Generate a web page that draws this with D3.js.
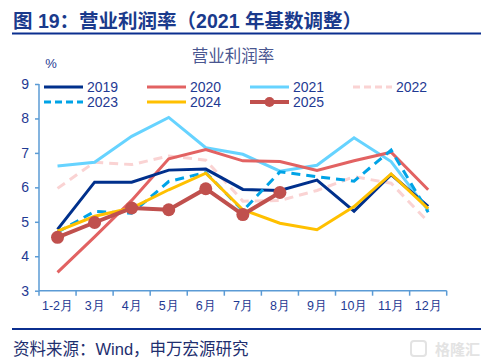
<!DOCTYPE html>
<html><head><meta charset="utf-8">
<script src="https://cdn.jsdelivr.net/npm/d3@7"></script>
<style>body{margin:0;background:#fff;}svg{display:block;font-family:"Liberation Sans",Arial,"Noto Sans CJK SC",sans-serif;}</style>
</head><body>
<script>
const months = ["1-2月","3月","4月","5月","6月","7月","8月","9月","10月","11月","12月"];
const yTicks = [3,4,5,6,7,8,9];
const s2019 = [4.78,6.15,6.15,6.50,6.53,5.94,5.91,6.21,5.31,6.37,5.45];
const s2020 = [3.53,4.56,5.62,6.83,7.10,6.77,6.75,6.49,6.77,7.02,5.93];
const s2021 = [6.62,6.73,7.48,8.03,7.15,6.96,6.47,6.64,7.44,6.75,5.33];
const s2022 = [5.97,6.73,6.66,6.91,6.79,5.60,5.62,5.91,6.31,6.12,5.00];
const s2023 = [4.70,5.30,5.25,6.17,6.43,5.32,6.45,6.31,6.18,7.08,5.28];
const s2024 = [4.73,5.16,5.40,5.93,6.41,5.35,4.96,4.77,5.44,6.39,5.38];
const s2025 = [4.55,4.98,5.40,5.35,5.96,5.21,5.85];
const seriesNames = ["2019","2020","2021","2022","2023","2024","2025"];
const seriesColors = ["#00308C","#E26262","#66D3FF","#FAD3D3","#00A3E6","#FFC000","#C0504D"];

const series = [s2019,s2020,s2021,s2022,s2023,s2024,s2025];
const dashes = [null,null,null,"9,6","9,6",null,null];
const widths = [3,3,3,3,3,3,4];

const W=486,H=364;
const svg=d3.select("body").append("svg").attr("width",W).attr("height",H);
const navy="#1F3A93";

// Title
svg.append("text").attr("x",13).attr("y",28).attr("font-size",19.5).attr("font-weight","bold")
  .attr("fill","#1A3A8C").text("图 19：营业利润率（2021 年基数调整）");
svg.append("line").attr("x1",12).attr("x2",481).attr("y1",33.5).attr("y2",33.5).attr("stroke","#0B2F8F").attr("stroke-width",2);

// subtitle
svg.append("text").attr("x",233).attr("y",62).attr("text-anchor","middle").attr("font-size",16.5)
  .attr("fill","#4A5690").text("营业利润率");
svg.append("text").attr("x",51).attr("y",68).attr("text-anchor","middle").attr("font-size",13)
  .attr("fill",navy).text("%");

const x=d3.scaleBand().domain(months).range([39,446.7]);
const y=d3.scaleLinear().domain([3,9]).range([290.7,84]);

const axisColor="#5B9BD5";
const ya=svg.append("g").attr("transform","translate(39,0)")
  .call(d3.axisLeft(y).tickValues(yTicks).tickSize(4).tickPadding(6).tickFormat(d3.format("d")));
ya.select(".domain").attr("stroke",axisColor).attr("stroke-width",1.5).attr("d","M0,84V290.7");
ya.selectAll(".tick line").attr("stroke",axisColor).attr("stroke-width",1.5);
ya.selectAll(".tick text").attr("fill",navy).attr("font-size",14).attr("font-family","Liberation Sans,Arial,sans-serif");

const xa=svg.append("g").attr("transform","translate(0,290.7)")
  .call(d3.axisBottom(x).tickSize(0).tickPadding(10));
xa.select(".domain").attr("stroke",axisColor).attr("stroke-width",1.5).attr("d","M39,0H446.7");
xa.selectAll(".tick text").attr("fill",navy).attr("font-size",12.5);
// boundary ticks
const bounds = months.map(m=>x(m)).concat([x.range()[1]]);
xa.selectAll(".bt").data(bounds).enter().append("line").attr("class","bt")
  .attr("x1",d=>d).attr("x2",d=>d).attr("y1",0).attr("y2",5).attr("stroke",axisColor).attr("stroke-width",1.5);

const line=d3.line().x((d,i)=>x(months[i])+x.bandwidth()/2).y(d=>y(d));
const order=[3,2,1,0,4,5,6];
order.forEach(k=>{
  svg.append("path").datum(series[k]).attr("d",line).attr("fill","none")
    .attr("stroke",seriesColors[k]).attr("stroke-width",widths[k])
    .attr("stroke-dasharray",dashes[k]).attr("stroke-linejoin","miter");
});
svg.selectAll(".dot").data(s2025).enter().append("circle")
  .attr("cx",(d,i)=>x(months[i])+x.bandwidth()/2).attr("cy",d=>y(d)).attr("r",6.5).attr("fill","#C0504D");

// Legend
const lg=svg.append("g");
seriesNames.forEach((n,i)=>{
  const col=i%4,row=Math.floor(i/4);
  const lx=44+col*103, ly=87+row*15;
  lg.append("line").attr("x1",lx).attr("x2",lx+39).attr("y1",ly).attr("y2",ly)
    .attr("stroke",seriesColors[i]).attr("stroke-width",i===6?4:3).attr("stroke-dasharray",dashes[i]?"7,4":null);
  if(i===6) lg.append("circle").attr("cx",lx+19.5).attr("cy",ly).attr("r",5).attr("fill",seriesColors[i]);
  lg.append("text").attr("x",lx+43).attr("y",ly+5).attr("font-size",14).attr("fill",navy)
    .attr("font-family","Liberation Sans,Arial,sans-serif").text(n);
});

// footer
svg.append("line").attr("x1",12).attr("x2",481).attr("y1",329).attr("y2",329).attr("stroke","#0B2F8F").attr("stroke-width",2);
svg.append("text").attr("x",13).attr("y",355).attr("font-size",16.5).attr("fill","#1F2F6F").text("资料来源：Wind，申万宏源研究");
svg.append("text").attr("x",480).attr("y",355).attr("text-anchor","end").attr("font-size",15).attr("font-weight","bold")
  .attr("fill","#E3E3E3").text("格隆汇");
svg.append("rect").attr("x",411).attr("y",341).attr("width",15).attr("height",15).attr("rx",3).attr("fill","none").attr("stroke","#E3E3E3").attr("stroke-width",2);
</script>
</body></html>
